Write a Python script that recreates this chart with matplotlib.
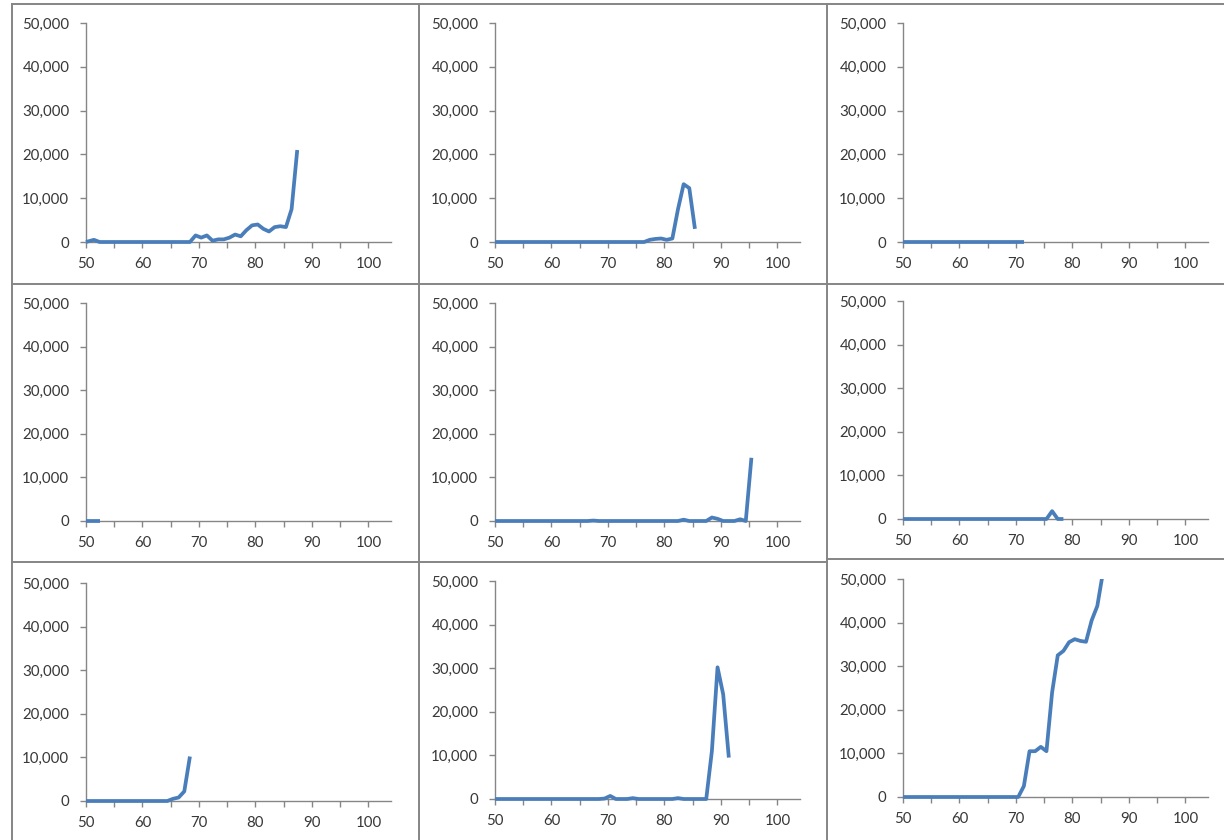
import matplotlib
matplotlib.use("Agg")
import matplotlib.pyplot as plt
import numpy as np
from matplotlib.lines import Line2D
from matplotlib.ticker import FuncFormatter, MultipleLocator
from matplotlib.transforms import Bbox, TransformedBbox

plt.rcParams['font.family'] = ['Lato', 'DejaVu Sans']

# shared x grid: first sample at 50, the rest just past each integer
age = np.array([50.0] + [n + 0.4 for n in range(51, 96)])

series_1 = [0, 500] + [0] * 17 + [1500, 1000, 1500, 300, 600, 600, 1000, 1700, 1300,
                                  2700, 3800, 4000, 3000, 2400, 3400, 3600, 3400, 7500, 21000]
series_2 = [0] * 27 + [500, 700, 800, 500, 800, 7500, 13200, 12300, 3000]
series_3 = [0] * 22
series_4 = [0] * 3
series_5 = ([0] * 17 + [100] + [0] * 15 + [300] + [0] * 4
            + [800, 500, 0, 0, 0, 400, 0, 14500])
series_6 = [0] * 26 + [1800, 0, 0]
series_7 = [0] * 15 + [500, 800, 2200, 10200]
series_8 = ([0] * 19 + [100, 700, 0, 0, 0, 200] + [0] * 7 + [200] + [0] * 5
            + [11000, 30200, 24000, 9500])
series_9 = [0] * 21 + [2500, 10500, 10500, 11500, 10500, 24000, 32500, 33500,
                       35500, 36200, 35800, 35600, 40500, 43800, 51500]

all_series = [series_1, series_2, series_3,
              series_4, series_5, series_6,
              series_7, series_8, series_9]

x_ticks = [50, 60, 70, 80, 90, 100]
y_ticks = [0, 10000, 20000, 30000, 40000, 50000]

W, H = 1224, 840
fig = plt.figure(figsize=(W / 100, H / 100), dpi=100)
fig.patch.set_facecolor('white')

# pixel placement of each plot area: (y-axis x, zero line y, top y)
layout = [(86, 242, 23), (495, 242, 23), (903, 242, 23),
          (86, 521, 303), (495, 521, 303), (903, 519, 301),
          (86, 801, 583), (495, 799, 581), (903, 797, 579)]
plot_w = 305

# chart frames
frame_col = '#858585'
frame_lines = [((12, 12), (4, 840)), ((419, 419), (4, 840)), ((827, 827), (4, 840)),
               ((12, 1224), (4, 4)), ((12, 1224), (284, 284)),
               ((12, 827), (562, 562)), ((827, 1224), (559, 559))]
for xs, ys in frame_lines:
    fig.add_artist(Line2D([x / W for x in xs], [1 - y / H for y in ys],
                          color=frame_col, lw=1.4, transform=fig.transFigure))

txt_col = '#383838'
axis_col = '#868686'

for (x0, yb, yt), vals in zip(layout, all_series):
    ax = fig.add_axes([x0 / W, 1 - yb / H, plot_w / W, (yb - yt) / H])
    ax.set_xlim(50, 104)
    ax.set_ylim(0, 50000)
    ax.patch.set_alpha(0)
    for s in ('top', 'right'):
        ax.spines[s].set_visible(False)
    for s in ('left', 'bottom'):
        ax.spines[s].set_color(axis_col)
        ax.spines[s].set_linewidth(1.0)
    ax.xaxis.set_minor_locator(MultipleLocator(5))
    ax.set_xticks(x_ticks)
    ax.set_yticks(y_ticks)
    ax.yaxis.set_major_formatter(FuncFormatter(lambda v, p: f"{v:,.0f}"))
    ax.tick_params(axis='both', which='both', direction='out', length=4.5,
                   width=1.0, color=axis_col, labelcolor=txt_col, labelsize=10.8)
    ax.tick_params(axis='y', pad=7.5)
    ax.tick_params(axis='x', pad=6.5)

    line, = ax.plot(age[:len(vals)], vals, color='#4a7ebb', lw=2.7,
                    solid_joinstyle='round', solid_capstyle='butt', zorder=3)
    # let the zero line sit fully on the axis, but cut anything above the top
    line.set_clip_box(TransformedBbox(Bbox([[49, -5000], [105, 50000]]), ax.transData))

fig.savefig('out.png', dpi=100, facecolor='white')
